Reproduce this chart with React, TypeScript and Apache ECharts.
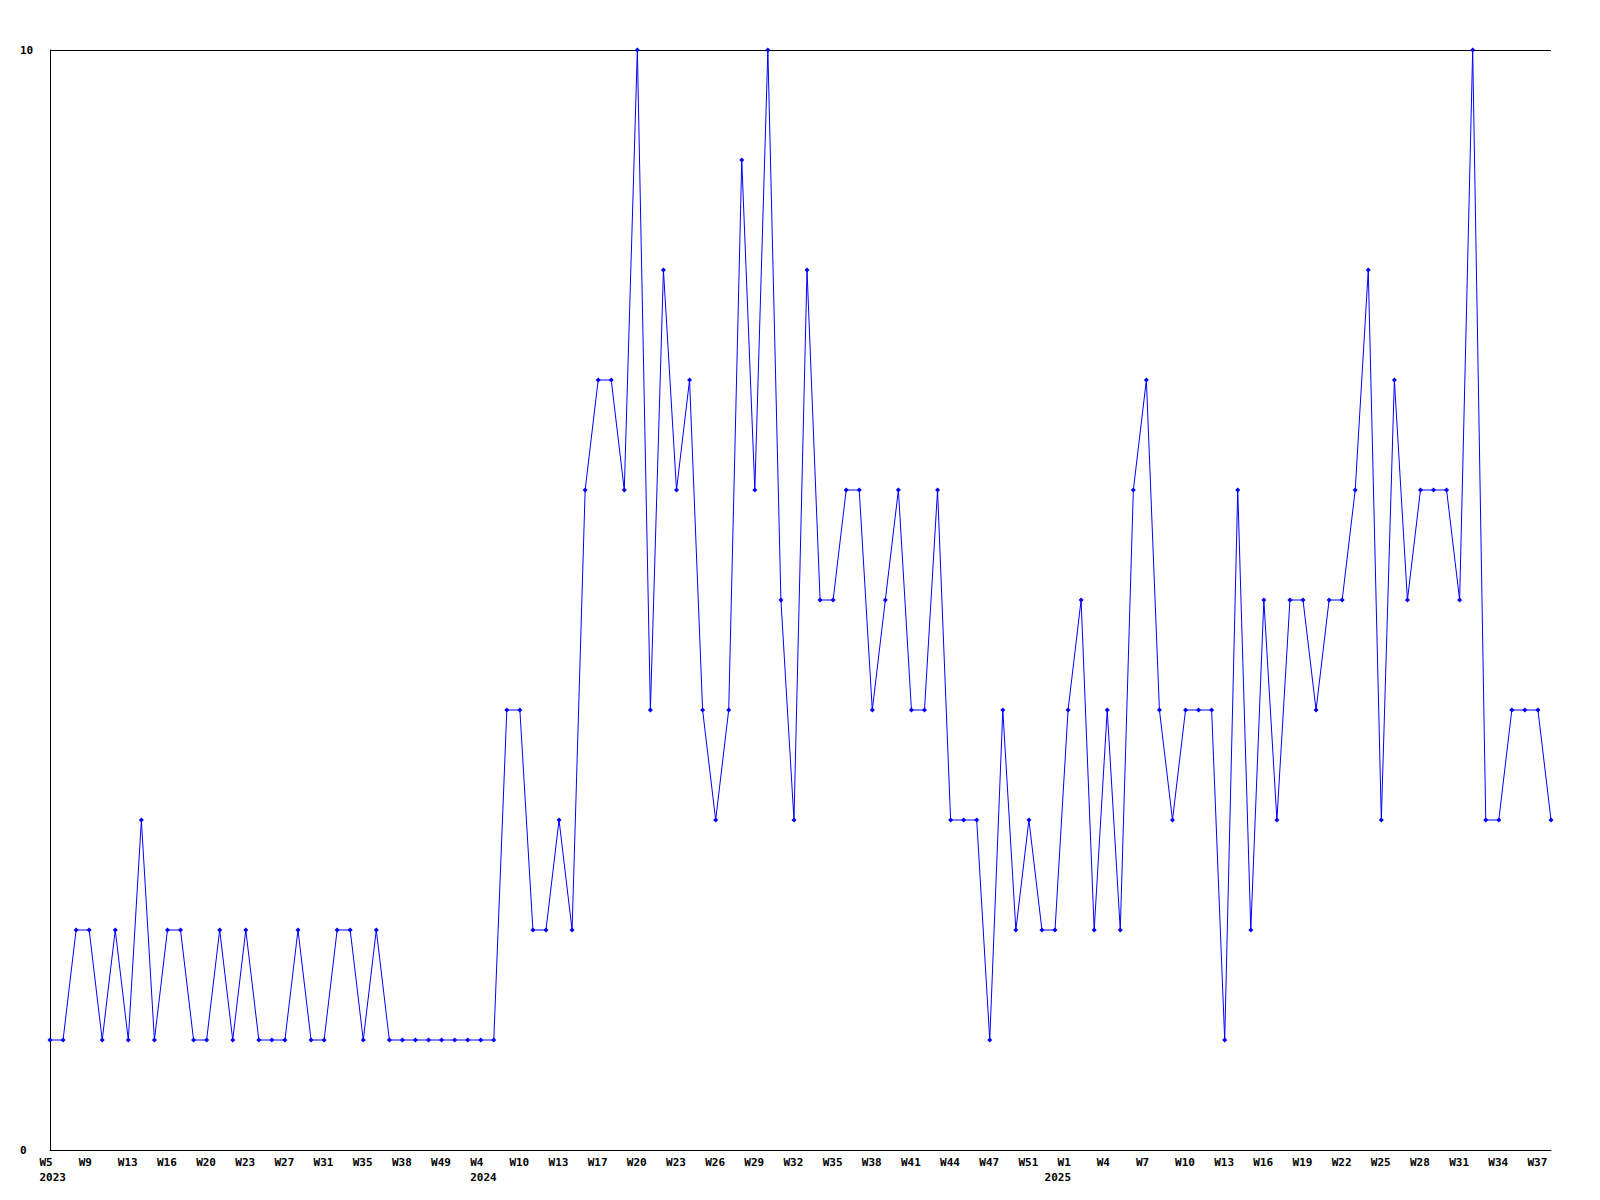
import React, { useEffect, useRef } from "react";
import * as echarts from "echarts";

const weeks: string[] = [
  "2023-W5", "2023-W6", "2023-W7", "2023-W9", "2023-W10", "2023-W11", "2023-W13", "2023-W14",
  "2023-W15", "2023-W16", "2023-W17", "2023-W18", "2023-W20", "2023-W21", "2023-W22", "2023-W23",
  "2023-W24", "2023-W26", "2023-W27", "2023-W28", "2023-W30", "2023-W31", "2023-W32", "2023-W33",
  "2023-W35", "2023-W36", "2023-W37", "2023-W38", "2023-W40", "2023-W45", "2023-W49", "2023-W50",
  "2023-W51", "2024-W4", "2024-W6", "2024-W8", "2024-W10", "2024-W11", "2024-W12", "2024-W13",
  "2024-W14", "2024-W16", "2024-W17", "2024-W18", "2024-W19", "2024-W20", "2024-W21", "2024-W22",
  "2024-W23", "2024-W24", "2024-W25", "2024-W26", "2024-W27", "2024-W28", "2024-W29", "2024-W30",
  "2024-W31", "2024-W32", "2024-W33", "2024-W34", "2024-W35", "2024-W36", "2024-W37", "2024-W38",
  "2024-W39", "2024-W40", "2024-W41", "2024-W42", "2024-W43", "2024-W44", "2024-W45", "2024-W46",
  "2024-W47", "2024-W48", "2024-W49", "2024-W51", "2024-W52", "2025-W0", "2025-W1", "2025-W2",
  "2025-W3", "2025-W4", "2025-W5", "2025-W6", "2025-W7", "2025-W8", "2025-W9", "2025-W10",
  "2025-W11", "2025-W12", "2025-W13", "2025-W14", "2025-W15", "2025-W16", "2025-W17", "2025-W18",
  "2025-W19", "2025-W20", "2025-W21", "2025-W22", "2025-W23", "2025-W24", "2025-W25", "2025-W26",
  "2025-W27", "2025-W28", "2025-W29", "2025-W30", "2025-W31", "2025-W32", "2025-W33", "2025-W34",
  "2025-W35", "2025-W36", "2025-W37", "2025-W38",
];

const counts2023: number[] = [
  1, 1, 2, 2, 1, 2, 1, 3, 1, 2, 2, 1, 1, 2, 1, 2, 1, 1, 1, 2, 1, 1, 2, 2, 1, 2, 1, 1, 1, 1, 1, 1,
  1,
];

const counts2024: number[] = [
  1, 1, 4, 4, 2, 2, 3, 2, 6, 7, 7, 6, 10, 4, 8, 6, 7, 4, 3, 4, 9, 6, 10, 5, 3, 8, 5, 5, 6, 6, 4,
  5, 6, 4, 4, 6, 3, 3, 3, 1, 4, 2, 3, 2,
];

const counts2025: number[] = [
  2, 4, 5, 2, 4, 2, 6, 7, 4, 3, 4, 4, 4, 1, 6, 2, 5, 3, 5, 5, 4, 5, 5, 6, 8, 3, 7, 5, 6, 6, 6, 5,
  10, 3, 3, 4, 4, 4, 3,
];

const counts: number[] = [...counts2023, ...counts2024, ...counts2025];

const yTicks: number[] = [0, 10];

const LABEL_STEP = 3;

const yearOf = (i: number) => weeks[i].split("-")[0];
const isYearStart = (i: number) => i === 0 || yearOf(i) !== yearOf(i - 1);
const isWeekLabel = (i: number) => i % LABEL_STEP === 0;

export default function App() {
  const ref = useRef<HTMLDivElement>(null);

  useEffect(() => {
    if (!ref.current) return;
    const chart = echarts.init(ref.current, null, { renderer: "svg" });
    const font = {
      fontFamily: "'DejaVu Sans Mono', monospace",
      fontWeight: "bold" as const,
      fontSize: 11,
      color: "#000",
    };
    chart.setOption({
      animation: false,
      backgroundColor: "#fff",
      grid: { left: 50, right: 49, top: 50, bottom: 50, containLabel: false },
      xAxis: {
        type: "category",
        data: weeks,
        boundaryGap: false,
        axisLine: { show: true, lineStyle: { color: "#000", width: 1 } },
        axisTick: { show: false },
        splitLine: { show: false },
        axisLabel: {
          interval: (i: number) => isWeekLabel(i) || isYearStart(i),
          margin: 5,
          align: "center",
          ...font,
          formatter: (value: string, index: number) => {
            const [year, wk] = value.split("-");
            const top = isWeekLabel(index) ? wk : "";
            return isYearStart(index) ? `{a|${top}}\n{a|${year}}` : `{a|${top}}`;
          },
          rich: {
            a: {
              width: 21,
              align: "left",
              lineHeight: 15,
              ...font,
            },
          },
        },
      },
      yAxis: {
        type: "value",
        min: yTicks[0],
        max: yTicks[yTicks.length - 1],
        interval: yTicks[1] - yTicks[0],
        axisLine: { show: true, lineStyle: { color: "#000", width: 1 } },
        axisTick: { show: false },
        splitLine: { show: true, lineStyle: { color: "#000", width: 1 } },
        axisLabel: {
          margin: 30,
          align: "left",
          ...font,
        },
      },
      series: [
        {
          type: "line",
          data: counts,
          symbol: "diamond",
          symbolSize: 5,
          showAllSymbol: true,
          lineStyle: { color: "#0000ff", width: 1 },
          itemStyle: { color: "#0000ff" },
        },
      ],
    });
    return () => chart.dispose();
  }, []);

  return (
    <div
      ref={ref}
      style={{ position: "fixed", left: 0, top: 0, width: 1600, height: 1200, background: "#fff" }}
    />
  );
}
